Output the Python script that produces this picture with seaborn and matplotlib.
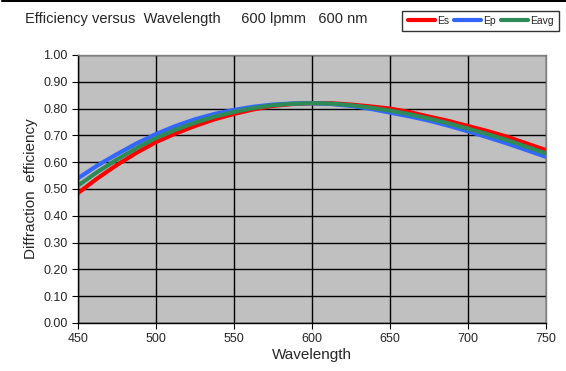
import matplotlib
matplotlib.use("Agg")
import matplotlib.pyplot as plt
import seaborn as sns
import pandas as pd
import numpy as np
from matplotlib.lines import Line2D

wavelength = [450, 462.5, 475, 487.5, 500, 512.5, 525, 537.5, 550, 562.5, 575, 587.5, 600,
              612.5, 625, 637.5, 650, 662.5, 675, 687.5, 700, 712.5, 725, 737.5, 750]
es = [0.485, 0.54, 0.59, 0.635, 0.675, 0.707, 0.735, 0.76, 0.78, 0.797, 0.81, 0.817, 0.82,
      0.82, 0.815, 0.808, 0.80, 0.787, 0.77, 0.754, 0.735, 0.716, 0.695, 0.67, 0.645]
ep = [0.54, 0.588, 0.63, 0.67, 0.705, 0.735, 0.76, 0.78, 0.795, 0.807, 0.815, 0.819, 0.82,
      0.817, 0.81, 0.799, 0.785, 0.771, 0.755, 0.736, 0.715, 0.693, 0.67, 0.645, 0.62]
eavg = [(a + b) / 2 for a, b in zip(es, ep)]
series_names = ["Es", "Ep", "Eavg"]

sns.set_style("white")
plt.rcParams['font.family'] = ['Liberation Sans', 'DejaVu Sans']

n = len(wavelength)
df = pd.DataFrame({"Wavelength": wavelength * 3,
                   "Eff": es + ep + eavg,
                   "Series": ["Es"] * n + ["Ep"] * n + ["Eavg"] * n})

fig = plt.figure(figsize=(5.66, 3.71), dpi=100)
ax = fig.add_axes([0.1378, 0.1294, 0.8269, 0.7224])
ax.set_facecolor("#C0C0C0")
palette = {"Es": "#FF0000", "Ep": "#3366FF", "Eavg": "#2E8B57"}
sns.lineplot(data=df, x="Wavelength", y="Eff", hue="Series", palette=palette,
             linewidth=3, ax=ax, legend=False)

ax.set_xlim(450, 750)
ax.set_ylim(0, 1.0)
ax.set_xticks(range(450, 751, 50))
ax.set_yticks(np.arange(0, 1.01, 0.1))
ax.set_yticklabels([f"{v:.2f}" for v in np.arange(0, 1.01, 0.1)])
ax.grid(True, color="black", linewidth=1)
ax.set_axisbelow(True)
for s in ["top", "right"]:
    ax.spines[s].set_color("#808080")
    ax.spines[s].set_linewidth(1)
for s in ["left", "bottom"]:
    ax.spines[s].set_color("black")
    ax.spines[s].set_linewidth(1)
ax.tick_params(axis="both", labelsize=9, length=4, color="black", direction="out", left=True, bottom=True)
ax.set_xlabel("Wavelength", fontsize=11, labelpad=2)
ax.set_ylabel("Diffraction  efficiency", fontsize=11)

fig.text(0.044, 0.948, "Efficiency versus  Wavelength     600 lpmm   600 nm", fontsize=10.5, va="center")

handles = [Line2D([], [], color=palette[k], linewidth=3) for k in series_names]
leg = fig.legend(handles, series_names, loc="upper right", bbox_to_anchor=(0.997, 0.985),
                 ncol=3, fontsize=7.5, frameon=True, fancybox=False, handlelength=2.6,
                 columnspacing=0.5, handletextpad=0.2, borderpad=0.5)
leg.get_frame().set_edgecolor("black")
leg.get_frame().set_linewidth(1)

fig.add_artist(Line2D([0.004, 1], [0.998, 0.998], transform=fig.transFigure, color="black", linewidth=1.5))

fig.savefig("out.png", dpi=100)
